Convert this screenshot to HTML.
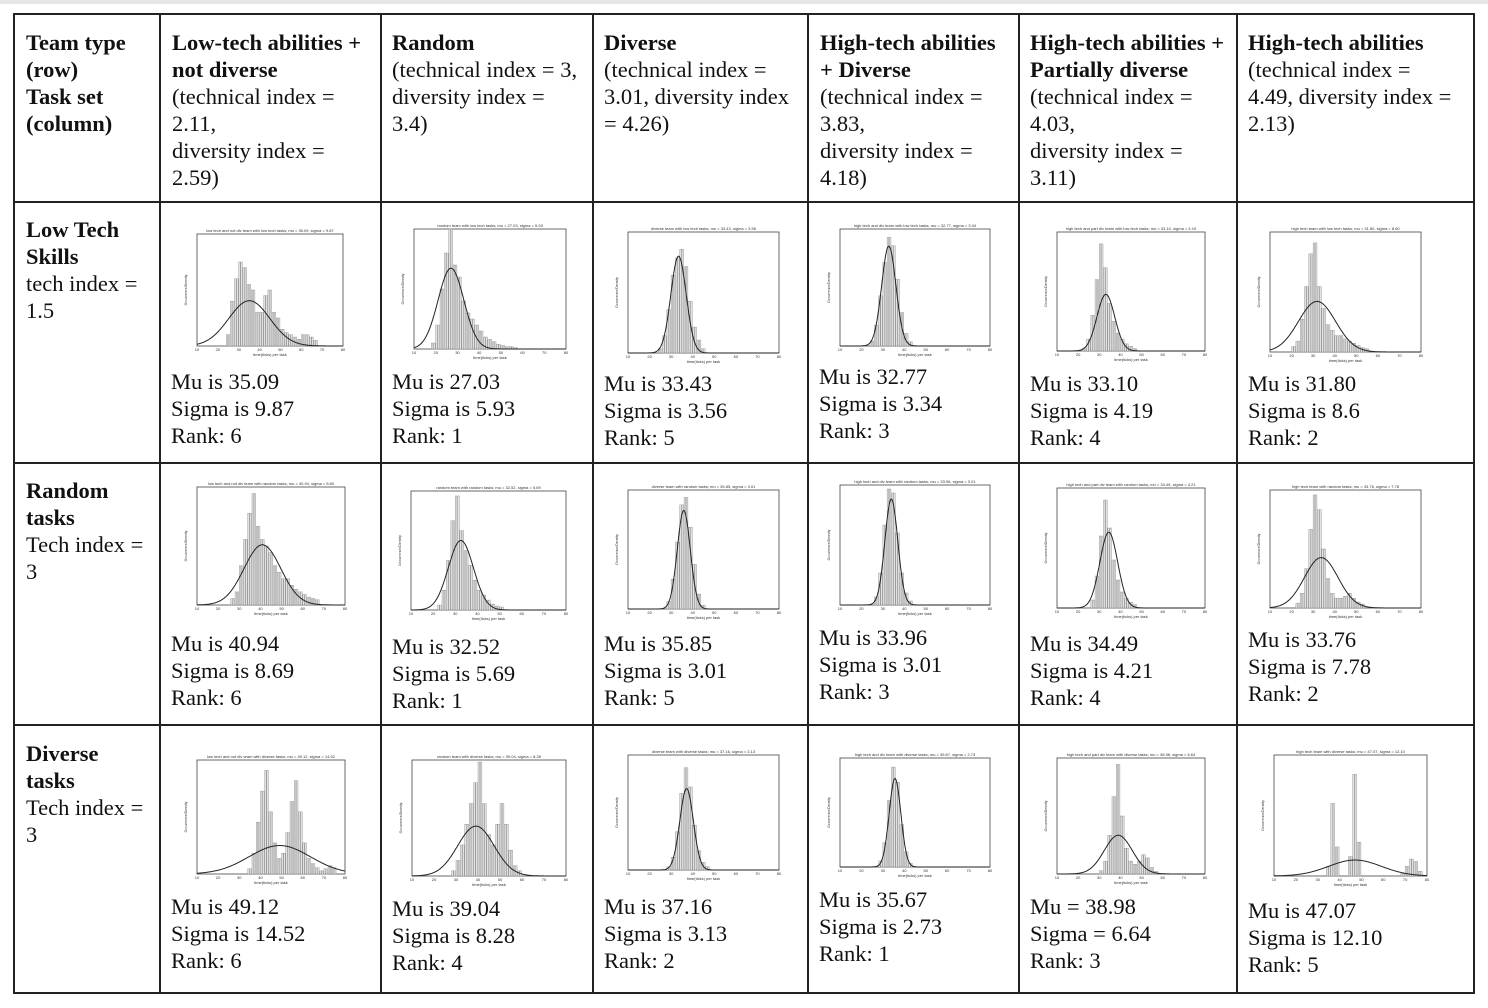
<!DOCTYPE html>
<html><head><meta charset="utf-8">
<style>
html,body{margin:0;padding:0;background:#fff;}
body{width:1488px;height:1008px;position:relative;overflow:hidden;font-family:"Liberation Serif",serif;color:#111;}
.t{position:absolute;font-size:22.5px;line-height:27px;white-space:nowrap;}
.b{font-weight:bold;}
svg{position:absolute;left:0;top:0;}
</style></head>
<body>
<div style="position:absolute;left:0;top:0;width:1488px;height:4px;background:#e6e6e6"></div>
<svg id="grid" width="1488" height="1008"></svg>

<div class="t" style="left:26px;top:29px"><span class="b">Team type<br>(row)<br>Task set<br>(column)</span></div>
<div class="t" style="left:172px;top:29px"><span class="b">Low-tech abilities +<br>not diverse</span><br>(technical index =<br>2.11,<br>diversity index =<br>2.59)</div>
<div class="t" style="left:392px;top:29px"><span class="b">Random</span><br>(technical index = 3,<br>diversity index =<br>3.4)</div>
<div class="t" style="left:604px;top:29px"><span class="b">Diverse</span><br>(technical index =<br>3.01, diversity index<br>= 4.26)</div>
<div class="t" style="left:820px;top:29px"><span class="b">High-tech abilities<br>+ Diverse</span><br>(technical index =<br>3.83,<br>diversity index =<br>4.18)</div>
<div class="t" style="left:1030px;top:29px"><span class="b">High-tech abilities +<br>Partially diverse</span><br>(technical index =<br>4.03,<br>diversity index =<br>3.11)</div>
<div class="t" style="left:1248px;top:29px"><span class="b">High-tech abilities</span><br>(technical index =<br>4.49, diversity index =<br>2.13)</div>

<div class="t" style="left:26px;top:216px"><span class="b">Low Tech<br>Skills</span><br>tech index =<br>1.5</div>
<div class="t" style="left:26px;top:477px"><span class="b">Random<br>tasks</span><br>Tech index =<br>3</div>
<div class="t" style="left:26px;top:740px"><span class="b">Diverse<br>tasks</span><br>Tech index =<br>3</div>

<div id="cells"></div>
<script>
// ---- data ----
const teams = ["low tech and not div team","random team","diverse team","high tech and div team","high tech and part div team","high tech team"];
const taskSets = ["low tech tasks","random tasks","diverse tasks"];
const mus = [[35.09,27.03,33.43,32.77,33.10,31.80],[40.94,32.52,35.85,33.96,34.49,33.76],[49.12,39.04,37.16,35.67,38.98,47.07]];
const sigmas = [[9.87,5.93,3.56,3.34,4.19,8.6],[8.69,5.69,3.01,3.01,4.21,7.78],[14.52,8.28,3.13,2.73,6.64,12.10]];
const ranks = [[6,1,5,3,4,2],[6,1,5,3,4,2],[6,4,2,1,3,5]];
const muLabels = [["Mu is 35.09","Mu is 27.03","Mu is 33.43","Mu is 32.77","Mu is 33.10","Mu is 31.80"],["Mu is 40.94","Mu is 32.52","Mu is 35.85","Mu is 33.96","Mu is 34.49","Mu is 33.76"],["Mu is 49.12","Mu is 39.04","Mu is 37.16","Mu is 35.67","Mu = 38.98","Mu is 47.07"]];
const sigmaLabels = [["Sigma is 9.87","Sigma is 5.93","Sigma is 3.56","Sigma is 3.34","Sigma is 4.19","Sigma is 8.6"],["Sigma is 8.69","Sigma is 5.69","Sigma is 3.01","Sigma is 3.01","Sigma is 4.21","Sigma is 7.78"],["Sigma is 14.52","Sigma is 8.28","Sigma is 3.13","Sigma is 2.73","Sigma = 6.64","Sigma is 12.10"]];
const ymaxs = [[0.10,0.10,0.14,0.14,0.20,0.11],[0.09,0.12,0.16,0.15,0.15,0.12],[0.11,0.112,0.18,0.18,0.18,0.25]];
const xTicks = [10,20,30,40,50,60,70,80];
const binStarts = [[24,18,24,24,22,20],[26,22,28,26,26,22],[34,28,28,28,30,34]];
const bars = [
 [[0.01,0.04,0.06,0.075,0.07,0.055,0.05,0.03,0.03,0.045,0.05,0.03,0.025,0.015,0.012,0.01,0.008,0.006,0.01,0.01,0.008,0.005],
  [0.005,0.02,0.05,0.08,0.10,0.07,0.06,0.04,0.03,0.025,0.02,0.015,0.01,0.008,0.006,0.004,0.003,0.002,0.002,0.001],
  [0.005,0.02,0.05,0.09,0.11,0.12,0.10,0.06,0.03,0.015,0.005],
  [0.006,0.025,0.06,0.10,0.13,0.12,0.08,0.04,0.015,0.005],
  [0.005,0.02,0.06,0.12,0.18,0.14,0.08,0.05,0.03,0.02,0.012,0.008,0.004],
  [0.005,0.01,0.03,0.06,0.09,0.10,0.06,0.04,0.025,0.02,0.015,0.015,0.012,0.01,0.008,0.006,0.004,0.003]],
 [[0.005,0.01,0.03,0.05,0.07,0.085,0.06,0.05,0.045,0.04,0.03,0.025,0.02,0.02,0.015,0.012,0.01,0.008,0.006,0.005,0.004],
  [0.005,0.02,0.05,0.09,0.115,0.08,0.06,0.045,0.03,0.02,0.015,0.01,0.006,0.004,0.003],
  [0.01,0.04,0.09,0.14,0.15,0.11,0.06,0.02,0.005],
  [0.01,0.04,0.10,0.145,0.14,0.09,0.04,0.015,0.005],
  [0.01,0.04,0.09,0.135,0.10,0.06,0.035,0.02,0.012,0.007,0.004],
  [0.005,0.015,0.04,0.08,0.115,0.10,0.06,0.03,0.015,0.01,0.01,0.012,0.015,0.01,0.006,0.004]],
 [[0.005,0.02,0.05,0.08,0.10,0.06,0.03,0.015,0.02,0.04,0.07,0.09,0.06,0.03,0.015,0.01,0.006,0.003,0.005,0.008,0.006],
  [0.005,0.015,0.03,0.05,0.07,0.09,0.11,0.07,0.04,0.03,0.05,0.07,0.05,0.025,0.01,0.005],
  [0.005,0.02,0.06,0.12,0.16,0.13,0.07,0.03,0.012,0.005],
  [0.01,0.04,0.11,0.165,0.14,0.07,0.025,0.006],
  [0.005,0.02,0.06,0.12,0.17,0.09,0.04,0.02,0.015,0.02,0.03,0.025,0.01,0.004],
  [0.02,0.15,0.06,0,0,0.04,0.21,0.07,0,0,0,0,0,0,0,0,0,0.005,0.02,0.035,0.03,0.01]]
];
// ---- layout ----
const colX=[14,160,381,593,808,1019,1237,1474];
const rowY=[14,202,463,725,993];
const boxes=[
 [[197,234,343,346],[414,229,566,349],[628,232,779,353],[840,229,990,346],[1057,232,1205,351],[1270,232,1421,352]],
 [[197,487,345,605],[411,491,566,610],[628,490,779,609],[840,485,990,605],[1057,488,1205,608],[1270,490,1421,608]],
 [[197,760,345,874],[412,760,566,876],[628,755,779,870],[840,758,990,867],[1057,758,1205,874],[1274,755,1427,876]]];
const textTops=[[368,368,370,363,370,370],[630,633,630,624,630,626],[893,895,893,886,893,897]];
const NS="http://www.w3.org/2000/svg";
const g=document.getElementById('grid');
function mk(tag,attrs,parent){const e=document.createElementNS(NS,tag);for(const k in attrs)e.setAttribute(k,attrs[k]);(parent||g).appendChild(e);return e;}
for(const x of colX){const l=mk('line',{x1:x,y1:13,x2:x,y2:994,stroke:'#222','stroke-width':2});

}
for(const y of rowY){const l=mk('line',{x1:13,y1:y,x2:1475,y2:y,stroke:'#222','stroke-width':2});

}
const cells=document.getElementById('cells');
for(let r=0;r<3;r++)for(let c=0;c<6;c++){
 const [x0,y0,x1,y1]=boxes[r][c];
 const ymax=ymaxs[r][c];
 const sx=v=>x0+(v-10)/70*(x1-x0);
 const sy=v=>y1-v/ymax*(y1-y0);
 const grp=mk('g',{});
 
 
 mk('rect',{x:x0,y:y0,width:x1-x0,height:y1-y0,fill:'#fff',stroke:'#444','stroke-width':0.8},grp);
 const arr=bars[r][c];
 for(let i=0;i<arr.length;i++){
  if(arr[i]<=0)continue;
  const a=binStarts[r][c]+i*2;
  for(let k=0;k<2;k++){
   const b=mk('rect',{x:sx(a+k),y:sy(arr[i]),width:Math.max(0.5,sx(a+k+1)-sx(a+k)-0.5),height:y1-sy(arr[i]),fill:'#e2e2e2',stroke:'#888','stroke-width':0.4},grp);
   
   
  }
 }
 const mu=mus[r][c],s=sigmas[r][c];let d='';
 for(let v=10;v<=80;v+=0.25){const p=Math.exp(-0.5*((v-mu)/s)**2)/(s*Math.sqrt(2*Math.PI));d+=(v===10?'M':'L')+sx(v).toFixed(1)+','+sy(Math.min(p,ymax)).toFixed(1);}
 const cur=mk('path',{d:d,fill:'none',stroke:'#222','stroke-width':1},grp);
 
 
 for(const t of xTicks){const tt=mk('text',{x:sx(t),y:y1+5,'font-size':4,'text-anchor':'middle','font-family':'Liberation Sans',fill:'#333'},grp);tt.textContent=t;
 
 }
 const xl=mk('text',{x:(x0+x1)/2,y:y1+10,'font-size':4,'text-anchor':'middle','font-family':'Liberation Sans',fill:'#333'},grp);xl.textContent='time(ticks) per task';
 
 
 const yl=mk('text',{x:x0-10,y:(y0+y1)/2,'font-size':3.5,'text-anchor':'middle','font-family':'Liberation Sans',fill:'#333',transform:'rotate(-90 '+(x0-10)+' '+(y0+y1)/2+')'},grp);yl.textContent='Occurrence/Density';
 
 
 const ti=mk('text',{x:(x0+x1)/2,y:y0-2,'font-size':4,'text-anchor':'middle','font-family':'Liberation Sans',fill:'#333'},grp);
 ti.textContent=teams[c]+' with '+taskSets[r]+'; mu = '+mu.toFixed(2)+', sigma = '+s.toFixed(2);
 
 
 const div=document.createElement('div');
 div.className='t';
 div.style.left=(colX[c+1]+11)+'px';div.style.top=textTops[r][c]+'px';
 div.innerHTML=muLabels[r][c]+'<br>'+sigmaLabels[r][c]+'<br>Rank: '+ranks[r][c];
 
 
 cells.appendChild(div);
}
</script>
</body></html>
